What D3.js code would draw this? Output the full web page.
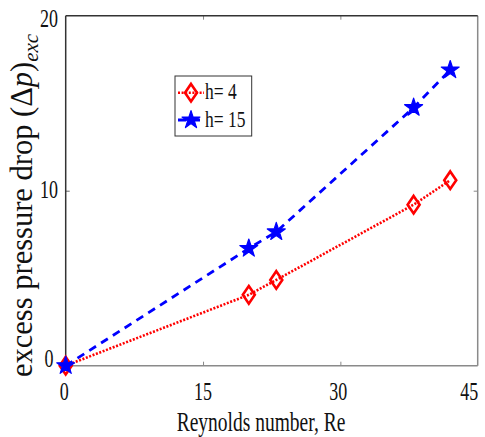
<!DOCTYPE html>
<html>
<head>
<meta charset="utf-8">
<script src="https://cdn.jsdelivr.net/npm/d3@7"></script>
<style>
  html, body { margin: 0; padding: 0; background: #fff; }
  svg { display: block; font-family: "Liberation Serif", "Times New Roman", serif; }
</style>
</head>
<body>
<svg id="chart" width="485" height="437"></svg>
<script>
// Reynolds numbers of the runs
const reynolds = [0, 20, 23, 38, 42];
// Excess pressure drop for each gap height
const dpH4  = [0, 4.05, 4.9, 9.2, 10.6];
const dpH15 = [0, 6.7, 7.65, 14.75, 16.9];
const seriesNames = ["h= 4", "h= 15"];
const xTicks = [0, 15, 30, 45];
const yTicks = [0, 10, 20];

const svg = d3.select("#chart");
const plotL = 65.7, plotR = 477.7, plotT = 15.7, plotB = 365.7;

const x = d3.scaleLinear().domain([0, 45]).range([plotL, plotR]);
const y = d3.scaleLinear().domain([0, 20]).range([plotB, plotT]);

// inward tick marks on all four sides
const tickLen = 4;
svg.append("g").attr("transform", `translate(0,${plotB})`)
  .call(d3.axisBottom(x).tickValues(xTicks.slice(1, -1)).tickSize(-tickLen).tickFormat(""))
  .call(g => g.select(".domain").remove())
  .selectAll("line").attr("stroke", "#888");
svg.append("g").attr("transform", `translate(0,${plotT})`)
  .call(d3.axisTop(x).tickValues(xTicks.slice(1, -1)).tickSize(-tickLen).tickFormat(""))
  .call(g => g.select(".domain").remove())
  .selectAll("line").attr("stroke", "#888");
svg.append("g").attr("transform", `translate(${plotL},0)`)
  .call(d3.axisLeft(y).tickValues(yTicks.slice(1, -1)).tickSize(-tickLen).tickFormat(""))
  .call(g => g.select(".domain").remove())
  .selectAll("line").attr("stroke", "#666");
svg.append("g").attr("transform", `translate(${plotR},0)`)
  .call(d3.axisRight(y).tickValues(yTicks.slice(1, -1)).tickSize(-tickLen).tickFormat(""))
  .call(g => g.select(".domain").remove())
  .selectAll("line").attr("stroke", "#888");

// frame: darker top/left, lighter bottom/right
svg.append("line").attr("x1", plotL).attr("x2", plotR).attr("y1", plotB).attr("y2", plotB)
  .attr("stroke", "#8a8a8a").attr("stroke-width", 1.5);
svg.append("line").attr("x1", plotR).attr("x2", plotR).attr("y1", plotT).attr("y2", plotB)
  .attr("stroke", "#8a8a8a").attr("stroke-width", 1.5);
svg.append("line").attr("x1", plotL).attr("x2", plotR).attr("y1", plotT).attr("y2", plotT)
  .attr("stroke", "#333").attr("stroke-width", 1.5);
svg.append("line").attr("x1", plotL).attr("x2", plotL).attr("y1", plotT).attr("y2", plotB)
  .attr("stroke", "#333").attr("stroke-width", 1.5);

// tall serif labels
function tallText(g, tx, ty, str, size, sy, anchor) {
  return g.append("text")
    .attr("transform", `translate(${tx},${ty}) scale(1,${sy})`)
    .attr("text-anchor", anchor || "middle")
    .attr("font-size", size)
    .attr("fill", "#111")
    .text(str);
}

const xLabelShift = {0: -1.5, 15: 0, 30: -2, 45: -8.5};
xTicks.forEach(v => tallText(svg, x(v) + xLabelShift[v], 400, String(v), 18, 1.38));
const yLabelShift = {0: -6.5, 10: -1, 20: 3.5};
yTicks.forEach(v => tallText(svg, 49, y(v) + yLabelShift[v] + 8, String(v), 18, 1.38));

tallText(svg, 261, 431, "Reynolds number, Re", 19.5, 1.4);

// y axis title
const yt = svg.append("text")
  .attr("transform", "translate(32,377) rotate(-90)")
  .attr("font-size", 30.5)
  .attr("fill", "#111");
yt.append("tspan").text("excess pressure drop (Δ");
yt.append("tspan").attr("font-style", "italic").text("p");
yt.append("tspan").text(")");
yt.append("tspan").attr("font-style", "italic").attr("font-size", 21).attr("dy", 6).text("exc");

// series
const series = [
  {name: seriesNames[0], values: dpH4, color: "#ff0000", dash: "2,1.6", width: 2.6, symbol: "diamond"},
  {name: seriesNames[1], values: dpH15, color: "#0000ff", dash: "8,6", width: 2.8, symbol: "star"}
];

const line = d3.line().x(d => x(d[0])).y(d => y(d[1]));
const diamondPath = "M0,-8.8L6,0L0,8.8L-6,0Z";
const starPath = d3.symbol().type(d3.symbolStar).size(100)();

function drawMarker(g, kind, cx, cy, color) {
  if (kind === "diamond") {
    g.append("path").attr("d", diamondPath)
      .attr("transform", `translate(${cx},${cy})`)
      .attr("fill", "none").attr("stroke", color).attr("stroke-width", 2.6);
  } else {
    g.append("path").attr("d", starPath)
      .attr("transform", `translate(${cx},${cy})`)
      .attr("fill", color).attr("stroke", color).attr("stroke-width", 1.2)
      .attr("stroke-linejoin", "round");
  }
}

series.forEach(s => {
  const pts = reynolds.map((r, i) => [r, s.values[i]]);
  svg.append("path").datum(pts).attr("d", line)
    .attr("fill", "none").attr("stroke", s.color)
    .attr("stroke-width", s.width).attr("stroke-dasharray", s.dash);
  const mg = svg.append("g");
  pts.forEach(p => drawMarker(mg, s.symbol, x(p[0]), y(p[1]), s.color));
});

// legend
const lg = svg.append("g");
lg.append("rect").attr("x", 175).attr("y", 76).attr("width", 76.7).attr("height", 60)
  .attr("fill", "#fff").attr("stroke", "#333").attr("stroke-width", 1);
const rowsY = [92.7, 120];
series.forEach((s, i) => {
  lg.append("line").attr("x1", 178).attr("x2", 204).attr("y1", rowsY[i]).attr("y2", rowsY[i])
    .attr("stroke", s.color).attr("stroke-width", s.width)
    .attr("stroke-dasharray", s.dash);
  drawMarker(lg, s.symbol, 191, rowsY[i], s.color);
  tallText(lg, 205, rowsY[i] + 6.5, s.name, 17.5, 1.32, "start");
});
</script>
</body>
</html>
